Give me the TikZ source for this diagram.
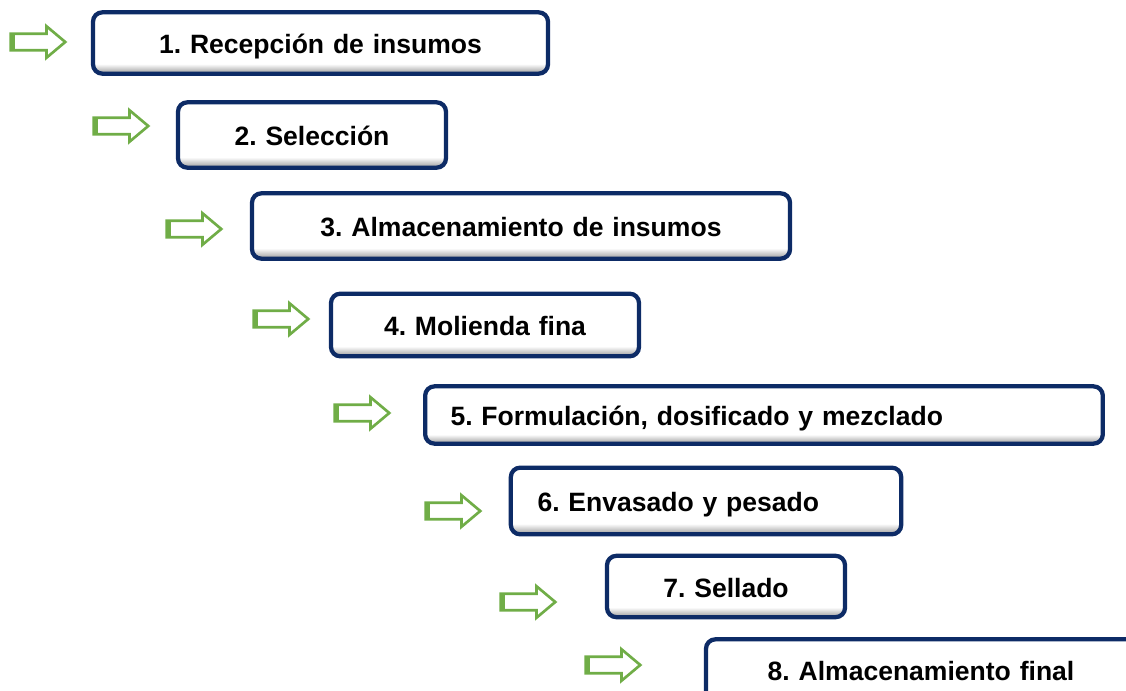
\documentclass[tikz,border=0pt]{standalone}
\usepackage{fontspec}
\setmainfont{Liberation Sans}
\frenchspacing
\usetikzlibrary{shapes.arrows}
\definecolor{navy}{HTML}{0D2B66}
\definecolor{verde}{HTML}{70AD47}
\pgfdeclareverticalshading{boxshade}{100bp}{color(0bp)=(black!45); color(25bp)=(black!40); color(33bp)=(white); color(100bp)=(white)}

\tikzset{
  paso/.style={shade, shading=boxshade, draw=navy, line width=3.2pt, rounded corners=7pt,
    minimum height=46pt, inner xsep=0pt, text height=20pt, text depth=4pt,
    font=\fontsize{19.9}{23}\selectfont\bfseries, align=center},
  flecha/.style={single arrow, draw=verde, line width=2pt, minimum height=41pt,
    single arrow head extend=5.6pt, single arrow tip angle=80, inner sep=5.2pt,
    path picture={\fill[verde] (path picture bounding box.south west) rectangle
      ([xshift=3pt]path picture bounding box.north west);}}
}

\begin{document}
\begin{tikzpicture}[x=0.75pt,y=-0.75pt]
\useasboundingbox (0,0) rectangle (1126,691);

%arrows
\node [flecha] (f1) at (33,42) {};
\node [flecha] (f2) at (116,126) {};
\node [flecha] (f3) at (189,229) {};
\node [flecha] (f4) at (276,319) {};
\node [flecha] (f5) at (357,413) {};
\node [flecha] (f6) at (448,511) {};
\node [flecha] (f7) at (523,602) {};
\node [flecha] (f8) at (608,665) {};

%steps
\node [paso, text width=455*0.75pt] (p1) at (320.5,43) {1. Recepción de insumos};
\node [paso, text width=268*0.75pt, minimum height=49pt] (p2) at (312,135) {2. Selección};
\node [paso, text width=538*0.75pt, minimum height=49pt] (p3) at (521,226) {3. Almacenamiento de insumos};
\node [paso, text width=308*0.75pt, minimum height=47pt] (p4) at (485,325) {4. Molienda fina};
\node [paso, text width=627*0.75pt, inner xsep=19pt, align=left, minimum height=43pt] (p5) at (764,415) {5. Formulación, dosificado y mezclado};
\node [paso, text width=337*0.75pt, inner xsep=20pt, align=left, minimum height=50pt] (p6) at (706,501) {6. Envasado y pesado};
\node [paso, text width=238*0.75pt] (p7) at (726,586.5) {7. Sellado};
\node [paso, text width=430*0.75pt] (p8) at (921,670) {8. Almacenamiento final};

\end{tikzpicture}
\end{document}
